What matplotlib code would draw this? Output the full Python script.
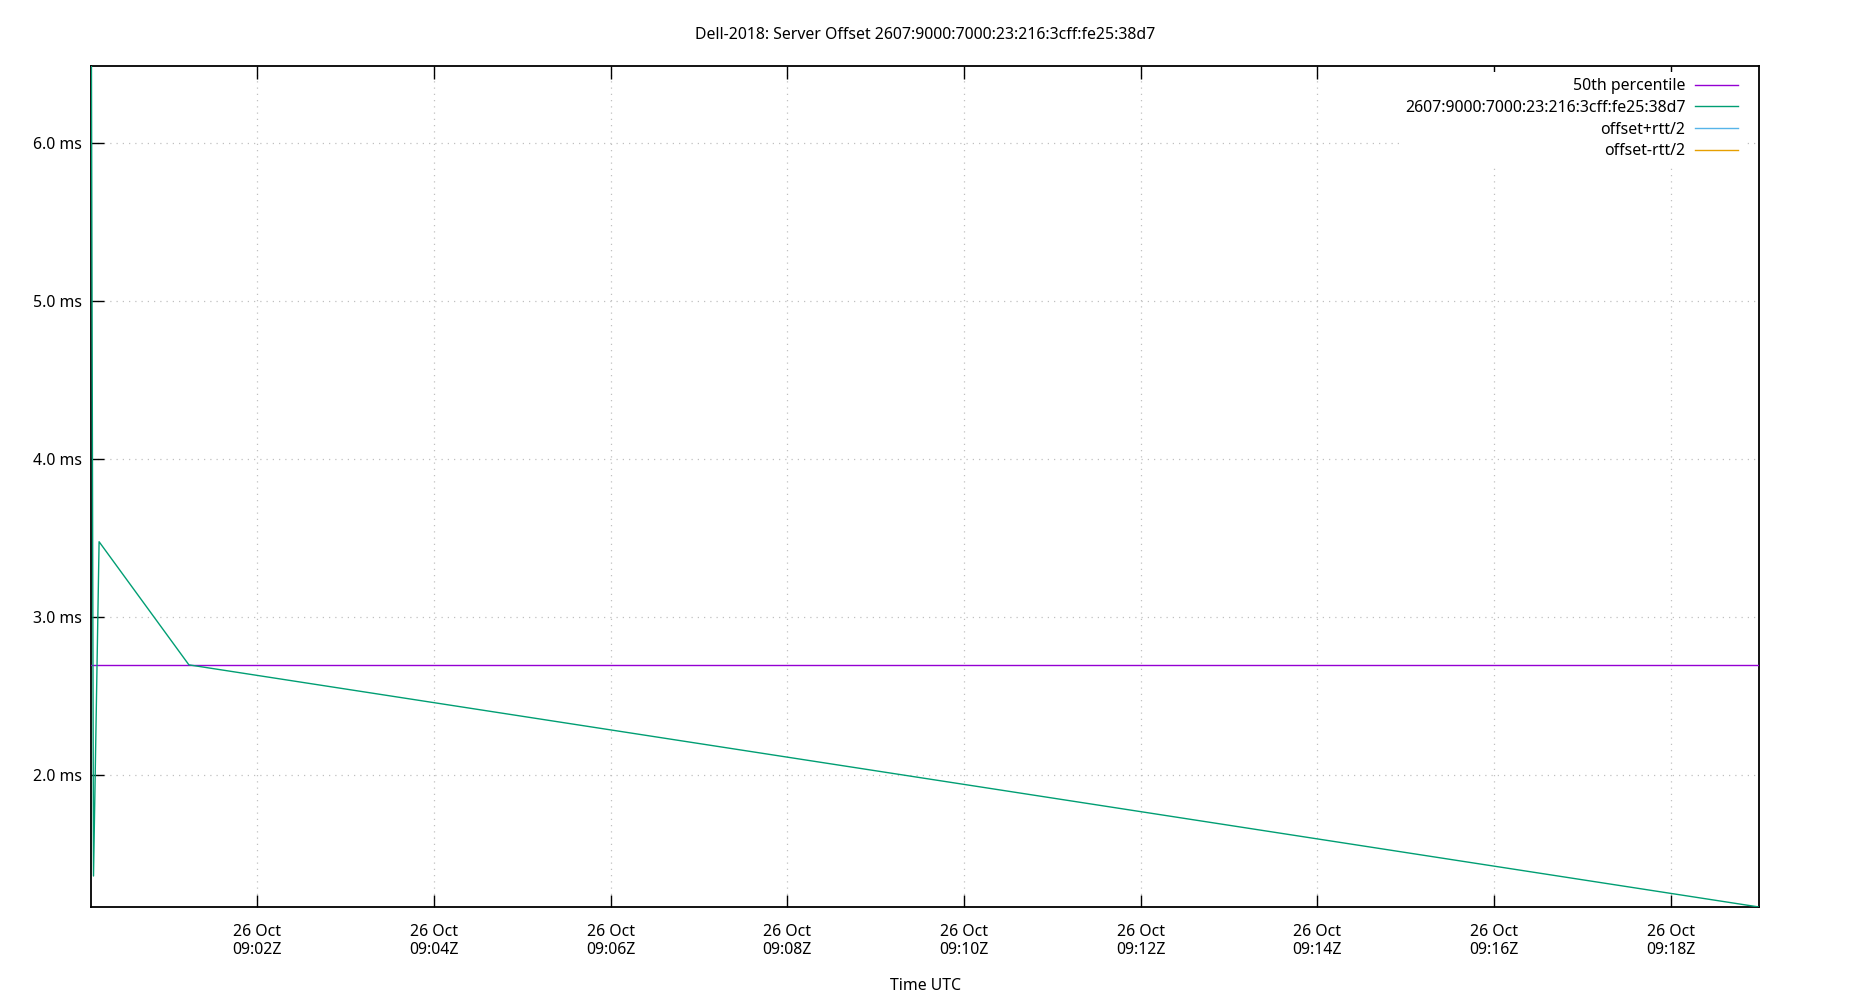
import matplotlib
matplotlib.use("Agg")
import matplotlib.pyplot as plt
import matplotlib.dates as mdates
import pandas as pd

plt.rcParams['font.family'] = ['Noto Sans', 'DejaVu Sans']

title = "Dell-2018: Server Offset 2607:9000:7000:23:216:3cff:fe25:38d7"
server_label = "2607:9000:7000:23:216:3cff:fe25:38d7"

times = pd.to_datetime([
    "2023-10-26 09:00:07.000",
    "2023-10-26 09:00:08.700",
    "2023-10-26 09:00:12.500",
    "2023-10-26 09:01:13.500",
    "2023-10-26 09:19:00.000",
], format="ISO8601")
offset_ms = [7.6, 1.36, 3.475, 2.696, 1.164]
median_ms = 2.696

x_min = pd.Timestamp("2023-10-26 09:00:07")
x_max = pd.Timestamp("2023-10-26 09:19:00")
y_min, y_max = 1.164, 6.485
y_ticks = [2.0, 3.0, 4.0, 5.0, 6.0]
y_tick_labels = ["2.0 ms", "3.0 ms", "4.0 ms", "5.0 ms", "6.0 ms"]
x_ticks = pd.date_range("2023-10-26 09:02", "2023-10-26 09:18", freq="2min")

FS = 11.4

fig = plt.figure(figsize=(18.5, 10), dpi=100)
ax = fig.add_axes([91/1850, 1 - 907/1000, (1759 - 91)/1850, (907 - 66)/1000])

ax.axhline(median_ms, color="#9400d3", lw=1.0, label="50th percentile", zorder=3)
ax.plot(times, offset_ms, color="#009e73", lw=1.0, label=server_label, zorder=3)
ax.plot([], [], color="#56b4e9", lw=1.0, label="offset+rtt/2")
ax.plot([], [], color="#e69f00", lw=1.0, label="offset-rtt/2")

ax.set_xlim(x_min, x_max)
ax.set_ylim(y_min, y_max)
ax.set_yticks(y_ticks)
ax.set_yticklabels(y_tick_labels)
ax.set_xticks(x_ticks)
ax.set_xticklabels([t.strftime("%d %b\n%H:%MZ") for t in x_ticks])

ax.grid(True, color="#c0c0c0", linestyle=(0, (1, 4)), lw=0.9)
ax.set_axisbelow(True)
ax.tick_params(axis="x", direction="in", length=9, width=1, top=True, labelsize=FS, pad=12)
ax.tick_params(axis="y", direction="in", length=9, width=1, right=False, labelsize=FS, pad=6.5)
for s in ax.spines.values():
    s.set_linewidth(1.3)

ax.set_xlabel("Time UTC", fontsize=FS, labelpad=14)
fig.suptitle(title, fontsize=FS, y=1 - 35/1000, va="center")

leg = ax.legend(loc="upper right", bbox_to_anchor=(1.0, 1.0099), markerfirst=False,
                frameon=True, fontsize=FS,
                handlelength=2.75, handletextpad=0.6, borderaxespad=0.9,
                labelspacing=0.36)
leg.get_frame().set_edgecolor("none")
leg.get_frame().set_facecolor("white")
leg.get_frame().set_alpha(1.0)
for t in leg.get_texts():
    t.set_ha("right")
leg.set_zorder(5)

fig.savefig("out.png", dpi=100, facecolor="white")
